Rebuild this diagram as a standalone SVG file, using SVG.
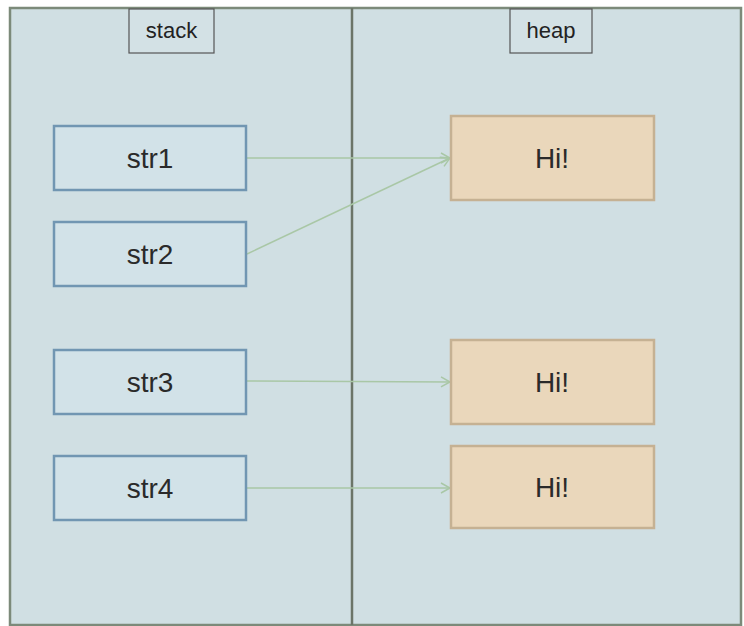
<svg xmlns="http://www.w3.org/2000/svg" width="744" height="626" viewBox="0 0 744 626">
<defs>
<style>
.panel{fill:#d0dfe3;stroke:#7c8a7a;stroke-width:2.5}
.div{stroke:#6b7568;stroke-width:2.5}
.lbl{fill:#d3e1e5;stroke:#555;stroke-width:1.2}
.lt{font-family:"Liberation Sans",Arial,sans-serif;font-size:22px;fill:#222;text-anchor:middle}
.var{fill:#d2e2e8;stroke:#7196b2;stroke-width:2.5}
.val{fill:#ead7bb;stroke:#c5b193;stroke-width:2.5}
.t{font-family:"Liberation Sans",Arial,sans-serif;font-size:28px;fill:#2a2a2a;text-anchor:middle}
.c{stroke:#a9c7a6;stroke-width:1.5;fill:none;marker-end:url(#ah)}
</style>
<marker id="ah" markerWidth="12" markerHeight="12" refX="10" refY="6" orient="auto" markerUnits="userSpaceOnUse">
<path d="M1,1 L10,6 L1,11" fill="none" stroke="#a9c7a6" stroke-width="1.5"/>
</marker>
</defs>
<rect x="0" y="0" width="744" height="626" fill="#ffffff"/>
<g id="frame">
<rect class="panel" x="10" y="8" width="731" height="617"/>
<line class="div" x1="352" y1="8" x2="352" y2="625"/>
</g>
<g id="stack-label">
<rect class="lbl" x="129" y="9" width="85" height="44"/>
<text class="lt" x="171.5" y="38">stack</text>
</g>
<g id="heap-label">
<rect class="lbl" x="510" y="9" width="82" height="44"/>
<text class="lt" x="551" y="38">heap</text>
</g>
<g id="connectors">
<line class="c" x1="247" y1="158" x2="450" y2="158"/>
<line class="c" x1="247" y1="254" x2="450" y2="158"/>
<line class="c" x1="247" y1="381" x2="450" y2="382"/>
<line class="c" x1="247" y1="488" x2="450" y2="488"/>
</g>
<g id="str1"><rect class="var" x="54" y="126" width="192" height="64"/><text class="t" x="150" y="168">str1</text></g>
<g id="str2"><rect class="var" x="54" y="222" width="192" height="64"/><text class="t" x="150" y="264">str2</text></g>
<g id="str3"><rect class="var" x="54" y="350" width="192" height="64"/><text class="t" x="150" y="392">str3</text></g>
<g id="str4"><rect class="var" x="54" y="456" width="192" height="64"/><text class="t" x="150" y="498">str4</text></g>
<g id="hi1"><rect class="val" x="451" y="116" width="203" height="84"/><text class="t" x="552" y="168">Hi!</text></g>
<g id="hi2"><rect class="val" x="451" y="340" width="203" height="84"/><text class="t" x="552" y="392">Hi!</text></g>
<g id="hi3"><rect class="val" x="451" y="446" width="203" height="82"/><text class="t" x="552" y="497">Hi!</text></g>
</svg>
